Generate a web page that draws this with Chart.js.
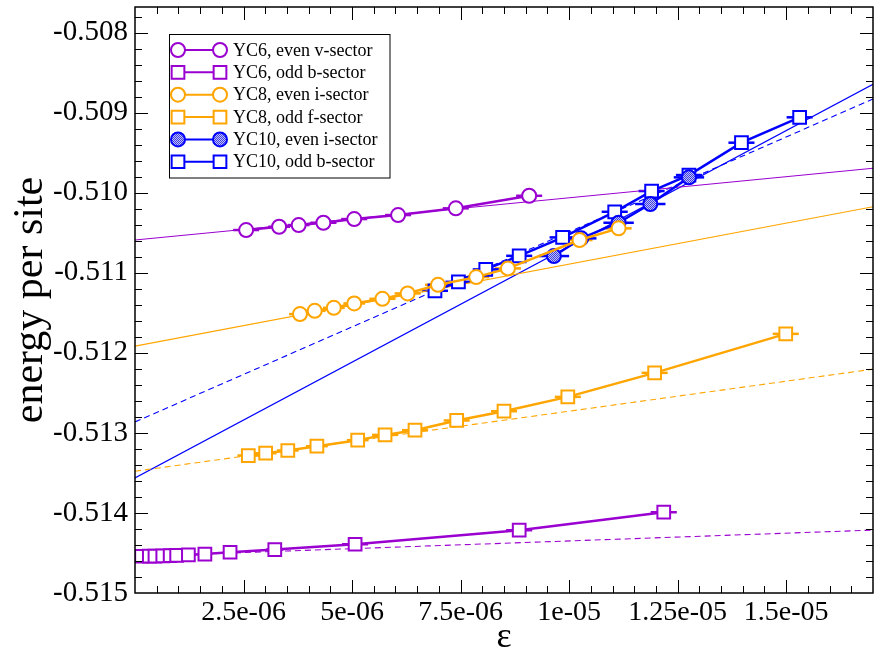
<!DOCTYPE html>
<html>
<head>
<meta charset="utf-8">
<script src="https://cdn.jsdelivr.net/npm/chart.js@4.4.1/dist/chart.umd.min.js"></script>
<style>
  html, body { margin: 0; padding: 0; background: #fff; }
  #wrap { width: 874px; height: 651px; }
</style>
</head>
<body>
<div id="wrap"><canvas id="myChart" width="874" height="651"></canvas></div>
<script>
// values: x = epsilon, y = energy per site, xErr = error on epsilon
var yc6EvenX = [2.56e-6, 3.32e-6, 3.77e-6, 4.34e-6, 5.05e-6, 6.06e-6, 7.39e-6, 9.08e-6];
var yc6EvenY = [-0.510466, -0.510425, -0.510404, -0.510375, -0.510329, -0.510279, -0.510195, -0.510038];
var yc6EvenErr = [0.3e-6, 0.25e-6, 0.25e-6, 0.3e-6, 0.3e-6, 0.3e-6, 0.3e-6, 0.3e-6];

var yc6OddX = [0.15e-6, 0.33e-6, 0.46e-6, 0.64e-6, 0.81e-6, 0.96e-6, 1.23e-6, 1.61e-6, 2.19e-6, 3.22e-6, 5.07e-6, 8.85e-6, 12.18e-6];
var yc6OddY = [-0.514541, -0.514540, -0.514538, -0.514535, -0.514533, -0.514529, -0.514525, -0.514513, -0.514491, -0.514458, -0.514391, -0.514216, -0.513991];
var yc6OddErr = [0.05e-6, 0.05e-6, 0.05e-6, 0.05e-6, 0.05e-6, 0.05e-6, 0.1e-6, 0.1e-6, 0.15e-6, 0.2e-6, 0.3e-6, 0.3e-6, 0.3e-6];

var yc8EvenX = [3.80e-6, 4.14e-6, 4.58e-6, 5.05e-6, 5.70e-6, 6.28e-6, 6.98e-6, 7.86e-6, 8.59e-6, 10.24e-6, 11.14e-6];
var yc8EvenY = [-0.511516, -0.511475, -0.511438, -0.511383, -0.511325, -0.511258, -0.511150, -0.511054, -0.510945, -0.510591, -0.510445];
var yc8EvenErr = [0.25e-6, 0.25e-6, 0.25e-6, 0.25e-6, 0.3e-6, 0.3e-6, 0.3e-6, 0.3e-6, 0.3e-6, 0.3e-6, 0.3e-6];

var yc8OddX = [2.61e-6, 3.01e-6, 3.52e-6, 4.19e-6, 5.13e-6, 5.76e-6, 6.45e-6, 7.41e-6, 8.50e-6, 9.97e-6, 11.97e-6, 14.99e-6];
var yc8OddY = [-0.513283, -0.513254, -0.513220, -0.513166, -0.513091, -0.513025, -0.512966, -0.512845, -0.512729, -0.512550, -0.512250, -0.511763];
var yc8OddErr = [0.25e-6, 0.25e-6, 0.25e-6, 0.25e-6, 0.25e-6, 0.3e-6, 0.3e-6, 0.3e-6, 0.3e-6, 0.3e-6, 0.3e-6, 0.3e-6];

var yc10EvenX = [9.65e-6, 10.28e-6, 11.14e-6, 11.87e-6, 12.76e-6];
var yc10EvenY = [-0.510791, -0.510570, -0.510375, -0.510141, -0.509808];
var yc10EvenErr = [0.35e-6, 0.35e-6, 0.35e-6, 0.35e-6, 0.35e-6];

var yc10OddX = [6.91e-6, 7.45e-6, 8.08e-6, 8.85e-6, 9.85e-6, 11.05e-6, 11.90e-6, 12.76e-6, 13.97e-6, 15.31e-6];
var yc10OddY = [-0.511225, -0.511113, -0.510958, -0.510788, -0.510558, -0.510238, -0.509979, -0.509779, -0.509375, -0.509058];
var yc10OddErr = [0.3e-6, 0.3e-6, 0.3e-6, 0.3e-6, 0.3e-6, 0.3e-6, 0.3e-6, 0.3e-6, 0.3e-6, 0.3e-6];

// extrapolation lines, value at x = 0 and at the right edge
var fitX = [0, 1.7e-5];
var yc6EvenFit = [-0.510591, -0.509695];
var yc6OddFit = [-0.514543, -0.514214];
var yc8EvenFit = [-0.511916, -0.510175];
var yc8OddFit = [-0.513479, -0.512204];
var yc10EvenFit = [-0.513563, -0.508645];
var yc10OddFit = [-0.512863, -0.508829];

var xTickValues = [2.5e-6, 5e-6, 7.5e-6, 1e-5, 1.25e-5, 1.5e-5];
var xTickLabels = ['2.5e-06', '5e-06', '7.5e-06', '1e-05', '1.25e-05', '1.5e-05'];
var yTickValues = [-0.515, -0.514, -0.513, -0.512, -0.511, -0.510, -0.509, -0.508];
var yTickLabels = ['-0.515', '-0.514', '-0.513', '-0.512', '-0.511', '-0.510', '-0.509', '-0.508'];

var PURPLE = '#9a00d0';
var ORANGE = '#ffa500';
var BLUE = '#0000ff';
var SERIF = '"Liberation Serif", "Times New Roman", serif';

function pts(xs, ys) {
  return xs.map(function (x, i) { return { x: x, y: ys[i] }; });
}

// dithered fill for the YC10 even markers
function stipple() {
  var c = document.createElement('canvas');
  c.width = 2; c.height = 2;
  var g = c.getContext('2d');
  g.fillStyle = '#c4c4f4'; g.fillRect(0, 0, 2, 2);
  g.fillStyle = '#3a3ae6'; g.fillRect(0, 0, 1, 1); g.fillRect(1, 1, 1, 1);
  return g.createPattern(c, 'repeat');
}
var blueFill = stipple();

function series(label, xs, ys, errs, color, style, fill) {
  return {
    label: label,
    data: pts(xs, ys),
    errX: errs,
    inLegend: true,
    showLine: true,
    borderColor: color,
    backgroundColor: fill || '#ffffff',
    borderWidth: 2.5,
    pointStyle: style,
    pointRadius: style === 'rect' ? 9 : 7,
    pointBorderWidth: 2,
    pointBorderColor: color,
    pointBackgroundColor: fill || '#ffffff'
  };
}

function fitLine(ys, color, dashed) {
  return {
    label: '',
    data: pts(fitX, ys),
    showLine: true,
    borderColor: color,
    borderWidth: 1.1,
    borderDash: dashed ? [6, 4] : [],
    pointRadius: 0
  };
}

var errorBars = {
  id: 'errorBars',
  beforeDatasetsDraw: function (chart) {
    var ctx = chart.ctx, xs = chart.scales.x, ys = chart.scales.y;
    ctx.save();
    chart.data.datasets.forEach(function (ds) {
      if (!ds.errX) return;
      ctx.strokeStyle = ds.borderColor;
      ctx.lineWidth = 2.5;
      ds.data.forEach(function (p, i) {
        var py = ys.getPixelForValue(p.y);
        ctx.beginPath();
        ctx.moveTo(xs.getPixelForValue(p.x - ds.errX[i]), py);
        ctx.lineTo(xs.getPixelForValue(p.x + ds.errX[i]), py);
        ctx.stroke();
      });
    });
    ctx.restore();
  }
};

// frame with inward major/minor ticks on all four sides
var frame = {
  id: 'frame',
  afterDatasetsDraw: function (chart) {
    var ctx = chart.ctx, a = chart.chartArea, xs = chart.scales.x, ys = chart.scales.y;
    ctx.save();
    ctx.strokeStyle = '#000';
    ctx.lineWidth = 1;
    var i, p, len;
    for (i = 1; i * 0.5e-6 < xs.max; i++) {
      p = Math.round(xs.getPixelForValue(i * 0.5e-6)) + 0.5;
      len = i % 5 === 0 ? 13 : 7;
      ctx.beginPath();
      ctx.moveTo(p, a.bottom); ctx.lineTo(p, a.bottom - len);
      ctx.moveTo(p, a.top); ctx.lineTo(p, a.top + len);
      ctx.stroke();
    }
    for (i = 1; -0.515 + i * 0.0002 < ys.max; i++) {
      p = Math.round(ys.getPixelForValue(-0.515 + i * 0.0002)) + 0.5;
      len = i % 5 === 0 ? 13 : 7;
      ctx.beginPath();
      ctx.moveTo(a.left, p); ctx.lineTo(a.left + len, p);
      ctx.moveTo(a.right, p); ctx.lineTo(a.right - len, p);
      ctx.stroke();
    }
    ctx.lineWidth = 1.5;
    ctx.strokeRect(a.left, a.top, a.right - a.left, a.bottom - a.top);
    ctx.restore();
  }
};

var boxLegend = {
  id: 'boxLegend',
  afterDraw: function (chart) {
    var ctx = chart.ctx;
    var box = { x: 169.5, y: 34.5, w: 220.5, h: 143.5 };
    ctx.save();
    ctx.fillStyle = '#fff';
    ctx.fillRect(box.x, box.y, box.w, box.h);
    ctx.strokeStyle = '#000';
    ctx.lineWidth = 1;
    ctx.strokeRect(box.x, box.y, box.w, box.h);
    var row = 0;
    chart.data.datasets.forEach(function (ds) {
      if (!ds.inLegend) return;
      var y = 50 + row * 22.35;
      ctx.strokeStyle = ds.borderColor;
      ctx.lineWidth = 2;
      ctx.beginPath(); ctx.moveTo(178, y); ctx.lineTo(220, y); ctx.stroke();
      [178, 220].forEach(function (x) {
        ctx.fillStyle = ds.pointBackgroundColor;
        ctx.strokeStyle = ds.borderColor;
        ctx.lineWidth = 2;
        Chart.helpers.drawPoint(ctx, {
          pointStyle: ds.pointStyle,
          radius: ds.pointStyle === 'rect' ? 9 : 7,
          rotation: 0,
          borderWidth: 2
        }, x, y);
      });
      ctx.fillStyle = '#000';
      ctx.font = '18px ' + SERIF;
      ctx.textBaseline = 'middle';
      ctx.fillText(ds.label, 233, y + 1);
      row++;
    });
    ctx.restore();
  }
};

window.onload = function () {
  var ctx = document.getElementById('myChart').getContext('2d');
  var myChart = new Chart(ctx, {
    type: 'scatter',
    data: {
      datasets: [
        series('YC6, even v-sector', yc6EvenX, yc6EvenY, yc6EvenErr, PURPLE, 'circle'),
        series('YC6, odd b-sector', yc6OddX, yc6OddY, yc6OddErr, PURPLE, 'rect'),
        series('YC8, even i-sector', yc8EvenX, yc8EvenY, yc8EvenErr, ORANGE, 'circle'),
        series('YC8, odd f-sector', yc8OddX, yc8OddY, yc8OddErr, ORANGE, 'rect'),
        series('YC10, even i-sector', yc10EvenX, yc10EvenY, yc10EvenErr, BLUE, 'circle', blueFill),
        series('YC10, odd b-sector', yc10OddX, yc10OddY, yc10OddErr, BLUE, 'rect'),
        fitLine(yc6EvenFit, PURPLE, false),
        fitLine(yc6OddFit, PURPLE, true),
        fitLine(yc8EvenFit, ORANGE, false),
        fitLine(yc8OddFit, ORANGE, true),
        fitLine(yc10EvenFit, BLUE, false),
        fitLine(yc10OddFit, BLUE, true)
      ]
    },
    options: {
      responsive: false,
      devicePixelRatio: 1,
      animation: false,
      layout: { autoPadding: false, padding: { top: 7, right: 1, left: 0, bottom: 0 } },
      plugins: { legend: { display: false }, tooltip: { enabled: false } },
      scales: {
        x: {
          type: 'linear',
          min: 0,
          max: 1.7e-5,
          afterBuildTicks: function (s) { s.ticks = xTickValues.map(function (v) { return { value: v }; }); },
          afterFit: function (s) { s.height = 58; s.paddingLeft = 0; s.paddingRight = 0; },
          grid: { display: false, drawTicks: false },
          border: { display: false },
          ticks: {
            autoSkip: false, maxRotation: 0, padding: 3, color: '#000',
            font: { family: SERIF, size: 28 },
            callback: function (v, i) { return xTickLabels[i]; }
          },
          title: { display: true, text: 'ε', color: '#000', font: { family: SERIF, size: 36, lineHeight: 0.6 }, padding: { top: 0, bottom: 3 } }
        },
        y: {
          type: 'linear',
          min: -0.515,
          max: -0.50768,
          afterBuildTicks: function (s) { s.ticks = yTickValues.map(function (v) { return { value: v }; }); },
          afterFit: function (s) { s.width = 135; s.paddingTop = 0; s.paddingBottom = 0; },
          grid: { display: false, drawTicks: false },
          border: { display: false },
          ticks: {
            autoSkip: false, padding: 7, color: '#000',
            font: { family: SERIF, size: 29 },
            callback: function (v, i) { return yTickLabels[i]; }
          },
          title: { display: true, text: 'energy per site', color: '#000', font: { family: SERIF, size: 42, lineHeight: 1 }, padding: { top: 10, bottom: 0 } }
        }
      }
    },
    plugins: [errorBars, frame, boxLegend]
  });
};
</script>
</body>
</html>
